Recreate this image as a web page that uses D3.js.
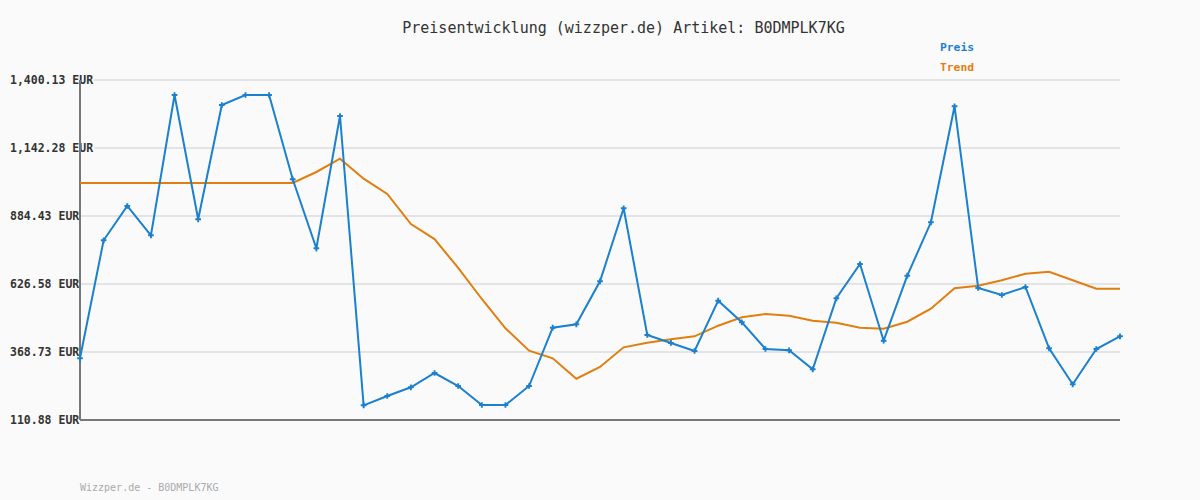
<!DOCTYPE html>
<html>
<head>
<meta charset="utf-8">
<script src="https://cdn.jsdelivr.net/npm/d3@7"></script>
<style>
  html, body { margin: 0; padding: 0; background: #fafafa; }
  svg { display: block; }
</style>
</head>
<body>
<svg id="chart" width="1200" height="500"></svg>
<script>
const titleText = "Preisentwicklung (wizzper.de) Artikel: B0DMPLK7KG";
const footerText = "Wizzper.de - B0DMPLK7KG";
const seriesNames = ["Preis", "Trend"];
const seriesColors = ["#1a80cf", "#e07f10"];
const tickValues = [110.88, 368.73, 626.58, 884.43, 1142.28, 1400.13];
const tickLabels = ["110.88 EUR", "368.73 EUR", "626.58 EUR", "884.43 EUR", "1,142.28 EUR", "1,400.13 EUR"];

const preis = [344.8, 792.3, 922.4, 811.2, 1343.3, 871.9, 1305.3, 1343.3, 1343.3, 1023.6,
  762.0, 1263.6, 166.6, 201.9, 234.9, 289.1, 239.8, 167.8, 167.8, 239.8,
  460.9, 473.7, 636.8, 913.6, 433.2, 403.0, 372.5, 563.3, 481.3, 380.1,
  375.2, 303.1, 572.4, 702.4, 411.6, 658.1, 860.5, 1300.4, 611.4, 584.9,
  615.2, 382.8, 246.2, 380.1, 428.3];
const trend = [1009.6, 1009.6, 1009.6, 1009.6, 1009.6, 1009.6, 1009.6, 1009.6, 1009.6, 1009.6,
  1051.3, 1101.8, 1025.9, 967.9, 854.1, 797.0, 687.3, 569.7, 458.6, 373.7,
  344.8, 267.5, 311.9, 386.5, 404.0, 416.9, 428.3, 468.5, 500.3, 512.8,
  506.4, 487.4, 479.8, 460.9, 457.1, 483.6, 532.9, 610.3, 620.1, 640.6,
  665.6, 673.2, 640.6, 608.8, 608.8];

(function() {
const svg = d3.select("#chart");
const W = 1200, H = 500;
const mLeft = 80, mRight = 1120, mTop = 80, mBottom = 420;
const FONT = "'DejaVu Sans Mono', 'Liberation Mono', monospace";

svg.append("rect").attr("width", W).attr("height", H).attr("fill", "#fafafa");

const x = d3.scaleLinear().domain([0, preis.length - 1]).range([mLeft, mRight]);
const y = d3.scaleLinear().domain([tickValues[0], tickValues[tickValues.length - 1]]).range([mBottom, mTop]);

// gridlines
svg.append("g").selectAll("line").data(tickValues).join("line")
  .attr("x1", mLeft).attr("x2", mRight)
  .attr("y1", d => y(d)).attr("y2", d => y(d))
  .attr("stroke", "#e4e4e4").attr("stroke-width", 2);

// y labels with background
const lab = svg.append("g").selectAll("g").data(tickValues).join("g");
lab.append("text")
  .attr("x", 10).attr("y", d => y(d)).attr("dy", "0.35em")
  .attr("font-family", FONT).attr("font-size", 11.5).attr("font-weight", "bold")
  .attr("fill", "#333")
  .text((d, i) => tickLabels[i])
  .each(function() {
    const bb = this.getBBox();
    d3.select(this.parentNode).insert("rect", "text")
      .attr("x", bb.x - 1).attr("y", bb.y).attr("width", bb.width + 2).attr("height", bb.height)
      .attr("fill", "#fafafa");
  });

// axes
svg.append("line").attr("x1", mLeft).attr("x2", mLeft).attr("y1", mTop).attr("y2", mBottom)
  .attr("stroke", "#777").attr("stroke-width", 2);
svg.append("line").attr("x1", mLeft).attr("x2", mRight).attr("y1", mBottom).attr("y2", mBottom)
  .attr("stroke", "#777").attr("stroke-width", 2);

const line = d3.line().x((d, i) => x(i)).y(d => y(d));

svg.append("path").datum(trend).attr("d", line)
  .attr("fill", "none").attr("stroke", seriesColors[1]).attr("stroke-width", 2);
svg.append("path").datum(preis).attr("d", line)
  .attr("fill", "none").attr("stroke", seriesColors[0]).attr("stroke-width", 2);

svg.append("g").selectAll("path").data(preis).join("path")
  .attr("transform", (d, i) => `translate(${x(i)},${y(d)})`)
  .attr("d", d3.symbol().type(d3.symbolCross).size(18))
  .attr("fill", seriesColors[0]);

// title
svg.append("text").attr("x", 623.5).attr("y", 28).attr("dy", "0.35em")
  .attr("text-anchor", "middle")
  .attr("font-family", FONT).attr("font-size", 15).attr("fill", "#333")
  .text(titleText);

// legend
svg.append("g").selectAll("text").data(seriesNames).join("text")
  .attr("x", 940).attr("y", (d, i) => 47 + i * 20).attr("dy", "0.35em")
  .attr("font-family", FONT).attr("font-size", 11.3).attr("font-weight", "bold")
  .attr("fill", (d, i) => seriesColors[i])
  .text(d => d);

// footer
svg.append("text").attr("x", 80).attr("y", 487).attr("dy", "0.35em")
  .attr("font-family", FONT).attr("font-size", 10).attr("fill", "#aaa")
  .text(footerText);
})();
</script>
</body>
</html>
